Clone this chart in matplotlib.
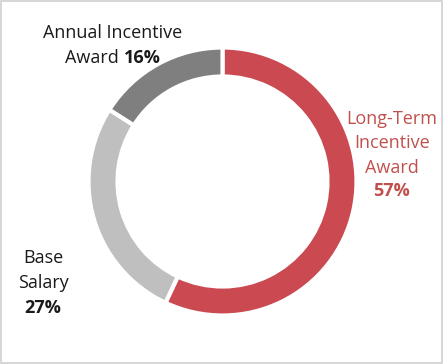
import matplotlib.pyplot as plt
from matplotlib.patches import Rectangle

# Data
labels = ['Long-Term Incentive Award', 'Base Salary', 'Annual Incentive Award']
shares = [57, 27, 16]
colors = ['#CB4A52', '#BFBFBF', '#7F7F7F']

plt.rcParams['font.family'] = ['Open Sans', 'DejaVu Sans']

fig = plt.figure(figsize=(4.43, 3.64), dpi=100)
ax = fig.add_axes([0, 0, 1, 1])

ax.pie(shares, colors=colors, startangle=90, counterclock=False,
       center=(222.5, 182.5), radius=134, frame=True,
       wedgeprops=dict(width=29, edgecolor='white', linewidth=3))
ax.set_xlim(0, 443)
ax.set_ylim(0, 364)
ax.set_aspect('equal')
ax.axis('off')

# Etykiety
fs = 13
red_txt = '#C0504D'
dark = '#1a1a1a'
ax.text(392, 364 - 119, 'Long-Term', ha='center', va='center', fontsize=fs, color=red_txt)
ax.text(392, 364 - 143, 'Incentive', ha='center', va='center', fontsize=fs, color=red_txt)
ax.text(392, 364 - 168, 'Award', ha='center', va='center', fontsize=fs, color=red_txt)
ax.text(392, 364 - 191, f'{shares[0]}%', ha='center', va='center', fontsize=fs,
        color=red_txt, fontweight='bold')

ax.text(43, 364 - 258, 'Base', ha='center', va='center', fontsize=fs, color=dark)
ax.text(43, 364 - 283, 'Salary', ha='center', va='center', fontsize=fs, color=dark)
ax.text(43, 364 - 308, f'{shares[1]}%', ha='center', va='center', fontsize=fs,
        color=dark, fontweight='bold')

ax.text(113, 364 - 33, 'Annual Incentive', ha='center', va='center', fontsize=fs, color=dark)
ax.text(119, 364 - 58, 'Award', ha='right', va='center', fontsize=fs, color=dark)
ax.text(124, 364 - 58, f'{shares[2]}%', ha='left', va='center', fontsize=fs,
        color=dark, fontweight='bold')

# Ramka
fig.patches.append(Rectangle((0.002, 0.003), 0.995, 0.994, transform=fig.transFigure,
                             fill=False, edgecolor='#D0D0D0', linewidth=1.2))

fig.savefig('out.png', dpi=100)
